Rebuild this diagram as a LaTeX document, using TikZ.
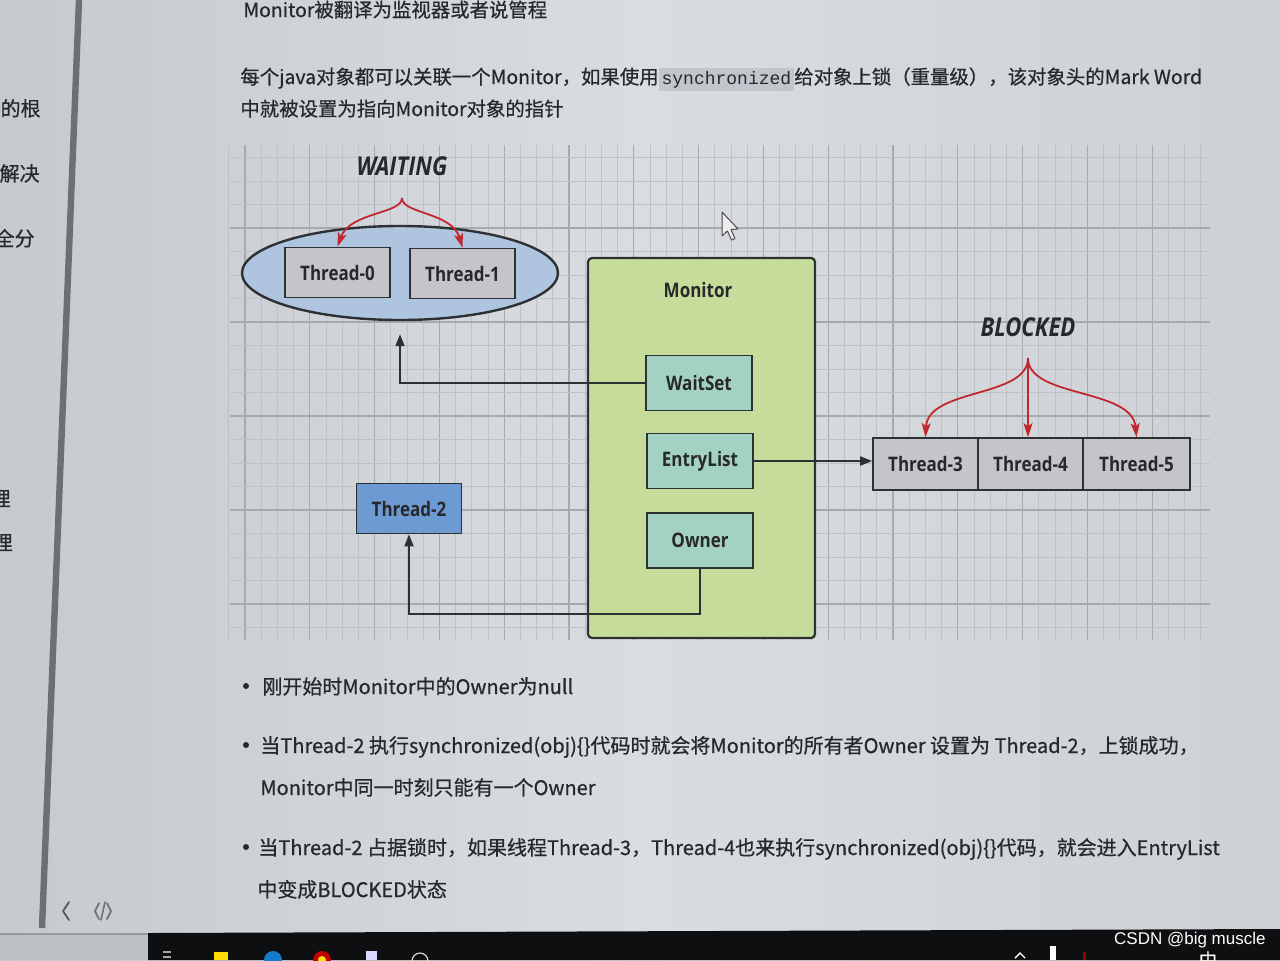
\documentclass[tikz,border=0pt]{standalone}
\usepackage{fontspec}
\setmainfont{Noto Sans CJK SC}[FakeBold=0.6]
\newfontfamily\diafont{Open Sans}[FakeStretch=0.85]
\newfontfamily\codefont{Liberation Mono}
\newfontfamily\wmfont{Liberation Sans}
\usetikzlibrary{arrows.meta,shapes.geometric}
\definecolor{pagebgA}{HTML}{C6CACF}
\definecolor{pagebgB}{HTML}{D9DCE0}
\definecolor{pagebgC}{HTML}{CDD1D6}
\definecolor{gridminor}{HTML}{BEC2C7}
\definecolor{gridmajor}{HTML}{A6AAAF}
\definecolor{txt}{HTML}{26282B}
\definecolor{boxline}{HTML}{2E3134}
\definecolor{thrgray}{HTML}{C3C5C8}
\definecolor{ellblue}{HTML}{AFC4DE}
\definecolor{mongreen}{HTML}{C6DC9A}
\definecolor{mint}{HTML}{A4D2C2}
\definecolor{tblue}{HTML}{6E9AD4}
\definecolor{redarr}{HTML}{C0282E}
\definecolor{barcol}{HTML}{6C7075}
\definecolor{codebg}{HTML}{C2C6CC}
\definecolor{taskbar}{HTML}{0E0F11}
\newcommand\codebox[1]{{\setlength\fboxsep{1.5pt}\colorbox{codebg}{\codefont\fontsize{9}{10}\selectfont #1}}}
\begin{document}
\begin{tikzpicture}[x=0.5pt,y=-0.5pt,
  lbl/.style={font=\diafont\bfseries\fontsize{10}{12}\selectfont, text=txt, inner sep=0pt},
  thr/.style={draw=boxline, line width=0.8pt, fill=thrgray, minimum width=52.5pt, minimum height=25pt, lbl},
  sub/.style={draw=boxline, line width=0.8pt, fill=mint, minimum width=53pt, minimum height=27.5pt, lbl},
  state/.style={font=\diafont\bfseries\itshape\fontsize{13}{15}\selectfont, text=txt, inner sep=0pt},
  conn/.style={draw=boxline, line width=0.9pt, -{Triangle[length=6pt,width=4.5pt]}},
  redline/.style={draw=redarr, line width=0.9pt, -{Stealth[length=7pt,width=4.5pt,inset=1.5pt]}},
  bodytext/.style={font=\fontsize{10}{12}\selectfont, text=txt, inner sep=0pt, anchor=base west},
  toptext/.style={font=\fontsize{9.7}{12}\selectfont, text=txt, inner sep=0pt, anchor=base west},
  sidetext/.style={font=\fontsize{10}{12}\selectfont, text=txt, inner sep=0pt, anchor=base east},
  minorgrid/.style={draw=gridminor, line width=0.35pt},
  majorgrid/.style={draw=gridmajor, line width=0.6pt}
]
\useasboundingbox (0,0) rectangle (1280,960);
% page background
\shade[left color=pagebgA, right color=pagebgC, middle color=pagebgB] (0,0) rectangle (1280,960);

% grid
\foreach \k in {-1,...,59} {
  \draw[minorgrid] ({245+\k*16.2},145) -- ({245+\k*16.2},640);
}
\foreach \k in {0,...,14} {
  \draw[majorgrid] ({245+\k*64.8},145) -- ({245+\k*64.8},640);
}
\foreach \k in {-3,...,17} {
  \draw[minorgrid] (230,{228+\k*23.5}) -- (1210,{228+\k*23.5});
}
\foreach \k in {0,...,4} {
  \draw[majorgrid] (230,{228+\k*94}) -- (1210,{228+\k*94});
}

% left sidebar
\draw[line width=3.2pt, barcol] (79,0) -- (42,928);
\node[sidetext] (s1) at (41,116) {题的根};
\node[sidetext] (s2) at (40,181) {解决};
\node[sidetext] (s3) at (35,246) {全分};
\node[sidetext] (s4) at (11,506) {理};
\node[sidetext] (s5) at (13,550) {理};

% top text
\node[toptext] (t_title) at (243,17) {Monitor被翻译为监视器或者说管程};
\node[toptext] (t_l1) at (240,84) {每个java对象都可以关联一个Monitor，如果使用\codebox{synchronized}给对象上锁（重量级），该对象头的Mark Word};
\node[toptext] (t_l2) at (240,116) {中就被设置为指向Monitor对象的指针};

% WAITING group
\node[state] (waiting) at (402,166) {WAITING};
\node[ellipse, draw=boxline, line width=1.2pt, fill=ellblue, minimum width=158pt, minimum height=47pt, inner sep=0pt] (ell) at (400,273) {};
\node[thr] (t0) at (337.5,272.5) {Thread-0};
\node[thr] (t1) at (462.5,273.5) {Thread-1};
\coordinate (wapex) at (402,198);
\draw[redline] (wapex) .. controls (402,214) and (350,212) .. (t0.north);
\draw[redline] (wapex) .. controls (402,214) and (452,212) .. (t1.north);

% Monitor
\node[draw=boxline, line width=1.1pt, rounded corners=2pt, fill=mongreen, minimum width=113.5pt, minimum height=190pt, inner sep=0pt] (mon) at (701.5,448) {};
\node[lbl] (monlbl) at (698,290) {Monitor};
\node[sub] (ws) at (699,383) {WaitSet};
\node[sub] (el) at (700,461) {EntryList};
\node[sub] (ow) at (700,540.5) {Owner};

% Thread-2
\node[thr, fill=tblue] (t2) at (409,508.5) {Thread-2};

% BLOCKED group
\node[state] (blocked) at (1028,327) {BLOCKED};
\node[thr, minimum width=52.5pt, minimum height=26pt] (t3) at (925.5,464) {Thread-3};
\node[thr, minimum width=52.5pt, minimum height=26pt] (t4) at (1030.5,464) {Thread-4};
\node[thr, minimum width=53.5pt, minimum height=26pt] (t5) at (1136.5,464) {Thread-5};
\coordinate (bapex) at (1028,358);
\draw[redline] (bapex) .. controls (1028,398) and (928,388) .. (t3.north);
\draw[redline] (bapex) -- (bapex |- t4.north);
\draw[redline] (bapex) .. controls (1028,398) and (1132,388) .. (t5.north);

% connectors
\draw[conn, shorten >=6.5pt] (ws.west) -| (ell.south);
\draw[conn] (el.east) -- (el.east -| t3.west);
\coordinate (obend) at (700,614);
\draw[conn] (ow.south) -- (ow.south |- obend) -| (t2.south);

% mouse cursor
\draw[draw=black!70, fill=white!85!gray, line width=0.5pt, line join=round]
  (722,212) -- (722,236) -- (727.5,231) -- (731.5,240) -- (735,238.5) -- (731,229.5) -- (738,229) -- cycle;

% bullets
\foreach \yy in {686,745,847} { \fill[txt] (246,\yy) circle (3); }
\node[bodytext] (b1) at (262,694) {刚开始时Monitor中的Owner为null};
\node[bodytext] (b2) at (260,753) {当Thread-2 执行synchronized(obj)\{\}代码时就会将Monitor的所有者Owner 设置为 Thread-2，上锁成功，};
\node[bodytext] (b2b) at (260,795) {Monitor中同一时刻只能有一个Owner};
\node[bodytext] (b3) at (258,855) {当Thread-2 占据锁时，如果线程Thread-3，Thread-4也来执行synchronized(obj)\{\}代码，就会进入EntryList};
\node[bodytext] (b3b) at (257,897) {中变成BLOCKED状态};

% bottom-left icons
\draw[black!65, line width=0.9pt, line cap=round, line join=round] (69,902) -- (63,911) -- (69,920);
\draw[black!55, line width=0.9pt, line cap=round, line join=round] (99,903) -- (95,911) -- (99,919);
\draw[black!55, line width=0.9pt, line cap=round, line join=round] (107,903) -- (111,911) -- (107,919);
\draw[black!55, line width=0.8pt, line cap=round] (105,902) -- (101,920);

% bottom separator and taskbar
\draw[black!40, line width=0.8pt] (0,934) -- (150,934);
\fill[black!8!pagebgC] (0,935) rectangle (148,960);
\fill[taskbar] (148,933) -- (1280,929) -- (1280,960) -- (148,960) -- cycle;
% taskbar icons (partly visible)
\fill[black!35] (163,951) rectangle (171,953);
\fill[black!35] (163,956) rectangle (171,958);
\fill[yellow!80!orange] (214,952) rectangle (228,960);
\fill[cyan!60!blue] (273,960) circle (9);
\fill[red!75!black] (322,960) circle (9);
\fill[yellow!85!orange] (322,960) circle (4);
\fill[blue!15!white] (366,951) rectangle (377,960);
\draw[white!70!gray, line width=0.6pt] (420,961) circle (8);
\draw[white, line width=0.7pt] (1015,958) -- (1020,953) -- (1025,958);
\fill[white] (1050,946) rectangle (1056,960);
\fill[red!60!black] (1083,952) rectangle (1086,960);
\node[font=\fontsize{9}{10}\selectfont, text=white, inner sep=0pt, anchor=north] (tzh) at (1208,951) {中};
\node[font=\wmfont\fontsize{8.5}{10}\selectfont, text=white, inner sep=0pt, anchor=east] (csdn) at (1266,940) {CSDN @big muscle};
\end{tikzpicture}
\end{document}
